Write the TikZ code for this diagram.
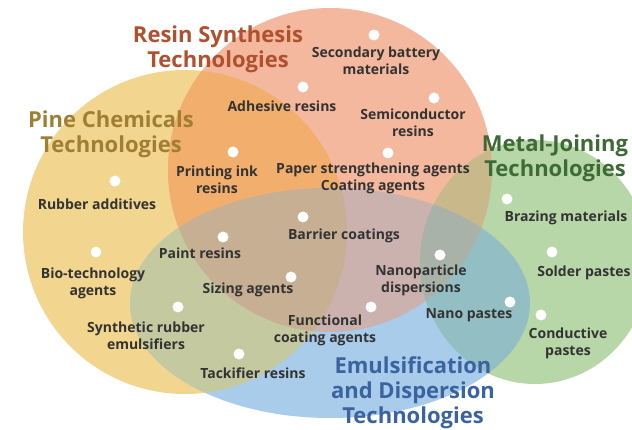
\documentclass[tikz,border=0pt]{standalone}
\usepackage{fontspec}
\setmainfont{Open Sans}
\definecolor{pineC}{HTML}{F2D58E}
\definecolor{resinC}{HTML}{F3B89E}
\definecolor{emulC}{HTML}{A9CCEA}
\definecolor{metalC}{HTML}{B8D7A8}
\definecolor{prC}{HTML}{F2AE6C}
\definecolor{peC}{HTML}{C5C9A0}
\definecolor{reC}{HTML}{CBB2AE}
\definecolor{preC}{HTML}{C6AF92}
\definecolor{rmC}{HTML}{C9B98A}
\definecolor{emC}{HTML}{93BFC4}
\definecolor{remC}{HTML}{A9B2A8}
\definecolor{labelC}{HTML}{333333}
\definecolor{resinT}{HTML}{B0502E}
\definecolor{pineT}{HTML}{A07F35}
\definecolor{metalT}{HTML}{3E6B35}
\definecolor{emulT}{HTML}{3A63A0}
\def\pineshape{(185,232) circle [radius=162pt]}
\def\resinshape{(330,170) circle [radius=162pt]}
\def\emulshape{(330,303) ellipse [x radius=200pt, y radius=115pt]}
\def\metalshape{(535,262) ellipse [x radius=115pt, y radius=122pt]}
\tikzset{
  lbl/.style={font=\bfseries\fontsize{14}{17}\selectfont, text=labelC, align=center, inner sep=0pt},
  ttl/.style={font=\bfseries\fontsize{22}{25}\selectfont, align=center, inner sep=0pt},
  dotmark/.style={circle, fill=white, minimum size=11pt, inner sep=0pt}
}
\begin{document}
\begin{tikzpicture}[x=1pt, y=-1pt]
\useasboundingbox (0,0) rectangle (632,430);
% base areas
\fill[pineC] \pineshape;
\fill[resinC] \resinshape;
\fill[emulC] \emulshape;
\fill[metalC] \metalshape;
% pairwise overlaps
\begin{scope}\clip \pineshape; \fill[prC] \resinshape; \end{scope}
\begin{scope}\clip \pineshape; \fill[peC] \emulshape; \end{scope}
\begin{scope}\clip \resinshape; \fill[reC] \emulshape; \end{scope}
\begin{scope}\clip \resinshape; \fill[rmC] \metalshape; \end{scope}
\begin{scope}\clip \emulshape; \fill[emC] \metalshape; \end{scope}
% triple overlaps
\begin{scope}\clip \pineshape; \clip \resinshape; \fill[preC] \emulshape; \end{scope}
\begin{scope}\clip \resinshape; \clip \emulshape; \fill[remC] \metalshape; \end{scope}

% titles
\node[ttl, text=resinT] (tResin) at (218,49) {Resin Synthesis\\Technologies};
\node[ttl, text=pineT] (tPine) at (111,134) {Pine Chemicals\\Technologies};
\node[ttl, text=metalT] (tMetal) at (555,158) {Metal-Joining\\Technologies};
\node[ttl, text=emulT] (tEmul) at (413,393) {Emulsification\\and Dispersion\\Technologies};

% items: dot + label
\node[dotmark] (dBattery) at (374,35) {};
\node[lbl] (lBattery) at (376,61) {Secondary battery\\materials};
\node[dotmark] (dAdhesive) at (303,87) {};
\node[lbl] (lAdhesive) at (282,106) {Adhesive resins};
\node[dotmark] (dSemi) at (434,98) {};
\node[lbl] (lSemi) at (413,123) {Semiconductor\\resins};
\node[dotmark] (dPaper) at (388,153) {};
\node[lbl] (lPaper) at (373,178) {Paper strengthening agents\\Coating agents};
\node[dotmark] (dInk) at (233,152) {};
\node[lbl] (lInk) at (217,180) {Printing ink\\resins};
\node[dotmark] (dRubber) at (115,181) {};
\node[lbl] (lRubber) at (97,204) {Rubber additives};
\node[dotmark] (dBarrier) at (303,217) {};
\node[lbl] (lBarrier) at (344,236) {Barrier coatings};
\node[dotmark] (dPaint) at (223,237) {};
\node[lbl] (lPaint) at (200,253) {Paint resins};
\node[dotmark] (dBio) at (96,252) {};
\node[lbl] (lBio) at (93,283) {Bio-technology\\agents};
\node[dotmark] (dSizing) at (291,277) {};
\node[lbl] (lSizing) at (248,290) {Sizing agents};
\node[dotmark] (dSynth) at (178,307) {};
\node[lbl] (lSynth) at (146,336) {Synthetic rubber\\emulsifiers};
\node[dotmark] (dFunc) at (371,307) {};
\node[lbl] (lFunc) at (325,330) {Functional\\coating agents};
\node[dotmark] (dTack) at (239,354) {};
\node[lbl] (lTack) at (253,373) {Tackifier resins};
\node[dotmark] (dNanoDisp) at (440,255) {};
\node[lbl] (lNanoDisp) at (421,280) {Nanoparticle\\dispersions};
\node[dotmark] (dNanoPaste) at (510,302) {};
\node[lbl] (lNanoPaste) at (469,315) {Nano pastes};
\node[dotmark] (dBrazing) at (507,199) {};
\node[lbl] (lBrazing) at (566,218) {Brazing materials};
\node[dotmark] (dSolder) at (552,252) {};
\node[lbl] (lSolder) at (584,273) {Solder pastes};
\node[dotmark] (dCond) at (541,315) {};
\node[lbl] (lCond) at (568,343) {Conductive\\pastes};
\end{tikzpicture}
\end{document}
